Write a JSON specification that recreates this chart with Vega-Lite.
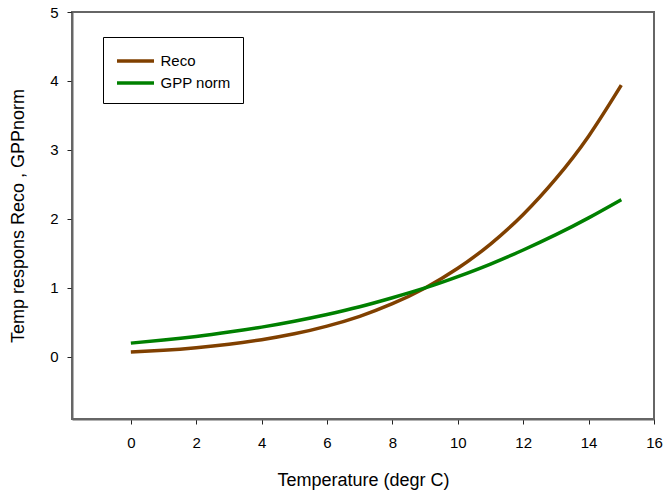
{
  "$schema": "https://vega.github.io/schema/vega-lite/v6.json",
  "width": 582,
  "height": 407,
  "autosize": {"type": "none"},
  "padding": {"left": 72, "top": 12, "right": 9, "bottom": 72},
  "background": "white",
  "config": {
    "view": {"stroke": "#666666", "strokeWidth": 2},
    "font": "Liberation Sans"
  },
  "data": {
    "values": [
      {"T": 0, "v": 0.07, "series": "Reco"},
      {"T": 1, "v": 0.097, "series": "Reco"},
      {"T": 2, "v": 0.134, "series": "Reco"},
      {"T": 3, "v": 0.184, "series": "Reco"},
      {"T": 4, "v": 0.25, "series": "Reco"},
      {"T": 5, "v": 0.335, "series": "Reco"},
      {"T": 6, "v": 0.447, "series": "Reco"},
      {"T": 7, "v": 0.589, "series": "Reco"},
      {"T": 8, "v": 0.771, "series": "Reco"},
      {"T": 9, "v": 1.0, "series": "Reco"},
      {"T": 10, "v": 1.285, "series": "Reco"},
      {"T": 11, "v": 1.636, "series": "Reco"},
      {"T": 12, "v": 2.065, "series": "Reco"},
      {"T": 13, "v": 2.584, "series": "Reco"},
      {"T": 14, "v": 3.2, "series": "Reco"},
      {"T": 15, "v": 3.94, "series": "Reco"},
      {"T": 0, "v": 0.2, "series": "GPP norm"},
      {"T": 1, "v": 0.245, "series": "GPP norm"},
      {"T": 2, "v": 0.297, "series": "GPP norm"},
      {"T": 3, "v": 0.36, "series": "GPP norm"},
      {"T": 4, "v": 0.432, "series": "GPP norm"},
      {"T": 5, "v": 0.517, "series": "GPP norm"},
      {"T": 6, "v": 0.615, "series": "GPP norm"},
      {"T": 7, "v": 0.727, "series": "GPP norm"},
      {"T": 8, "v": 0.858, "series": "GPP norm"},
      {"T": 9, "v": 1.0, "series": "GPP norm"},
      {"T": 10, "v": 1.164, "series": "GPP norm"},
      {"T": 11, "v": 1.346, "series": "GPP norm"},
      {"T": 12, "v": 1.55, "series": "GPP norm"},
      {"T": 13, "v": 1.772, "series": "GPP norm"},
      {"T": 14, "v": 2.016, "series": "GPP norm"},
      {"T": 15, "v": 2.28, "series": "GPP norm"}
    ]
  },
  "mark": {"type": "line", "strokeWidth": 3.5, "interpolate": "natural"},
  "encoding": {
    "x": {
      "field": "T",
      "type": "quantitative",
      "scale": {"domain": [-1.8, 16], "nice": false, "zero": false},
      "axis": {
        "values": [0, 2, 4, 6, 8, 10, 12, 14, 16],
        "title": "Temperature (degr C)",
        "grid": false,
        "tickSize": 5,
        "tickColor": "#222222",
        "domainColor": "#666666",
        "domainWidth": 2,
        "labelFontSize": 15,
        "labelColor": "black",
        "labelPadding": 11,
        "labelFlush": false,
        "labelOverlap": false,
        "titleFontSize": 18,
        "titleFontWeight": "normal",
        "titleColor": "black",
        "titlePadding": 21
      }
    },
    "y": {
      "field": "v",
      "type": "quantitative",
      "scale": {"domain": [-0.9, 5], "nice": false, "zero": false},
      "axis": {
        "values": [0, 1, 2, 3, 4, 5],
        "title": "Temp respons Reco , GPPnorm",
        "grid": false,
        "tickSize": 5,
        "tickColor": "#222222",
        "domainColor": "#666666",
        "domainWidth": 2,
        "labelFontSize": 15,
        "labelColor": "black",
        "labelPadding": 9,
        "labelFlush": false,
        "labelOverlap": false,
        "titleFontSize": 18,
        "titleFontWeight": "normal",
        "titleColor": "black",
        "titlePadding": 22
      }
    },
    "color": {
      "field": "series",
      "type": "nominal",
      "scale": {"domain": ["Reco", "GPP norm"], "range": ["#804000", "#008000"]},
      "legend": {
        "orient": "none",
        "legendX": 31,
        "legendY": 25,
        "title": null,
        "strokeColor": "black",
        "fillColor": "white",
        "padding": 12,
        "symbolType": "M-1.85,0H1.85",
        "symbolSize": 400,
        "symbolStrokeWidth": 3.5,
        "symbolOffset": 8.5,
        "labelOffset": 13,
        "labelFontSize": 15,
        "labelColor": "black",
        "rowPadding": 2,
        "labelExpr": "datum.label + '\u2003'"
      }
    }
  }
}
